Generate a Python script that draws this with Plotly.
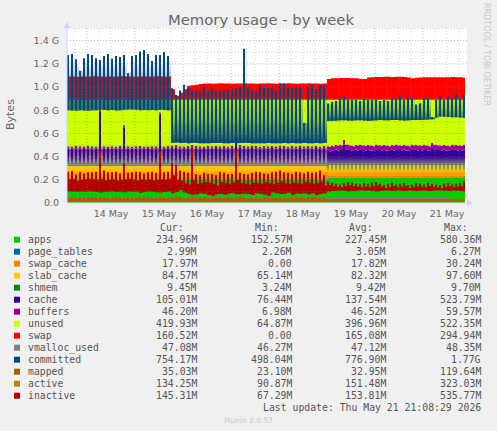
import pandas as pd
import plotly.graph_objects as go

# all values are in millions of bytes
# one row of "cycle" lists = one 2 hour comb tooth: first hour is the tall column, second the gap
hours = pd.date_range('2026-05-13 14:00', periods=200, freq='h')
coarse_hours = pd.date_range('2026-05-13 14:00', periods=17, freq='12h')

apps = [
    205, 205, 205, 205, 205, 205, 205, 205, 205, 205, 205, 205, 205, 205, 205, 205, 205, 205, 205, 205,
    205, 205, 205, 205, 205, 205, 205, 205, 205, 205, 205, 205, 205, 205, 205, 205, 205, 205, 205, 205,
    205, 205, 205, 205, 205, 205, 205, 205, 205, 205, 205, 205, 205, 205, 205, 205, 205, 205, 205, 205,
    205, 205, 205, 205, 205, 218, 218, 218, 218, 218, 218, 218, 218, 218, 218, 218, 218, 218, 218, 218,
    218, 218, 218, 218, 218, 218, 218, 218, 218, 218, 218, 218, 218, 218, 218, 218, 218, 218, 218, 218]
page_tables = [3, 3, 3, 3, 3, 3, 3, 3, 3, 3, 3, 3, 3, 3, 3, 3, 3]
swap_cache = [18, 18, 18, 18, 18, 18, 18, 18, 18, 18, 18, 18, 18, 18, 18, 18, 18]
shmem = [9, 9, 9, 9, 9, 9, 9, 9, 9, 9, 9, 9, 9, 9, 9, 9, 9]
slab_high = [
    95, 95, 95, 95, 95, 95, 95, 95, 95, 95, 95, 95, 95, 95, 95, 95, 95, 95, 95, 95,
    95, 95, 95, 95, 95, 95, 95, 95, 95, 95, 95, 95, 95, 95, 95, 95, 95, 95, 95, 95,
    95, 95, 95, 95, 95, 95, 95, 95, 95, 95, 95, 95, 95, 95, 95, 95, 95, 95, 95, 95,
    95, 95, 95, 95, 95, 50, 50, 50, 50, 50, 50, 50, 50, 50, 50, 50, 50, 50, 50, 50,
    50, 50, 50, 50, 50, 50, 50, 50, 50, 50, 50, 50, 50, 50, 50, 50, 50, 50, 50, 50]
slab_low = [
    95, 95, 95, 95, 95, 95, 95, 95, 95, 95, 95, 95, 95, 95, 95, 95, 95, 95, 95, 95,
    95, 95, 95, 95, 95, 95, 95, 95, 95, 95, 95, 95, 95, 95, 95, 95, 95, 95, 95, 95,
    95, 95, 95, 95, 95, 95, 95, 95, 95, 95, 95, 95, 95, 95, 95, 95, 95, 95, 95, 95,
    95, 95, 95, 95, 95, 90, 90, 90, 90, 90, 90, 90, 90, 90, 90, 90, 90, 90, 90, 90,
    90, 90, 90, 90, 90, 90, 90, 90, 90, 90, 90, 90, 90, 90, 90, 90, 90, 90, 90, 90]
cache_high = [
    140, 138, 142, 140, 136, 141, 139, 138, 460, 140, 136, 140, 138, 141, 320, 139, 137, 140, 142, 138,
    136, 140, 139, 430, 138, 141,
    145, 150, 140, 138, 142, 150, 141, 139, 136, 143, 140, 145, 139, 142, 138, 141, 205, 150, 143, 139,
    145, 141, 138, 142, 139, 144, 140, 146, 141, 138, 143, 140, 145, 139, 142, 140, 144, 138, 141,
    150, 155, 160, 165, 205, 165, 155, 160, 165, 158, 162, 155, 165, 158, 162, 155, 160, 165, 158, 162,
    155, 165, 160, 158, 165, 155, 180, 165, 158, 162, 155, 165, 160, 158, 162]
cache_low = [
    10, 10, 10, 10, 10, 10, 10, 10, 10, 10, 10, 10, 10, 10, 10, 10, 10, 10, 10, 10,
    10, 10, 10, 10, 10, 10, 10, 10, 10, 10, 10, 10, 10, 10, 10, 10, 10, 10, 10, 10,
    10, 10, 10, 10, 10, 10, 10, 10, 10, 10, 10, 10, 10, 10, 10, 10, 10, 10, 10, 10,
    10, 10, 10, 10, 10,
    105, 110, 115, 118, 125, 118, 110, 115, 118, 112, 115, 110, 118, 112, 115, 110, 115, 118, 112, 115,
    110, 118, 115, 112, 118, 110, 125, 118, 112, 115, 110, 118, 115, 112, 115]
buffers_high = [
    20, 20, 20, 20, 20, 20, 20, 20, 20, 20, 20, 20, 20, 20, 20, 20, 20, 20, 20, 20,
    20, 20, 20, 20, 20, 20, 20, 20, 20, 20, 20, 20, 20, 20, 20, 20, 20, 20, 20, 20,
    20, 20, 20, 20, 20, 20, 20, 20, 20, 20, 20, 20, 20, 20, 20, 20, 20, 20, 20, 20,
    20, 20, 20, 20, 20, 42, 42, 42, 42, 42, 42, 42, 42, 42, 42, 42, 42, 42, 42, 42,
    42, 42, 42, 42, 42, 42, 42, 42, 42, 42, 42, 42, 42, 42, 42, 42, 42, 42, 42, 42]
buffers_low = [
    5, 5, 5, 5, 5, 5, 5, 5, 5, 5, 5, 5, 5, 5, 5, 5, 5, 5, 5, 5,
    5, 5, 5, 5, 5, 5, 5, 5, 5, 5, 5, 5, 5, 5, 5, 5, 5, 5, 5, 5,
    5, 5, 5, 5, 5, 5, 5, 5, 5, 5, 5, 5, 5, 5, 5, 5, 5, 5, 5, 5,
    5, 5, 5, 5, 5, 42, 42, 42, 42, 42, 42, 42, 42, 42, 42, 42, 42, 42, 42, 42,
    42, 42, 42, 42, 42, 42, 42, 42, 42, 42, 42, 42, 42, 42, 42, 42, 42, 42, 42, 42]
unused_high = [
    400, 402, 398, 400, 404, 399, 401, 402, 80, 400, 404, 400, 402, 399, 220, 401, 403, 400, 398, 402,
    404, 400, 401, 110, 402, 399,
    395, 390, 400, 402, 398, 390, 399, 401, 404, 397, 400, 395, 401, 398, 402, 399, 335, 390, 397, 401,
    395, 399, 402, 398, 401, 396, 400, 394, 399, 402, 397, 400, 395, 401, 398, 400, 396, 402, 399,
    400, 395, 390, 385, 345, 385, 395, 390, 385, 392, 388, 395, 385, 392, 388, 395, 390, 385, 392, 388,
    395, 385, 390, 392, 385, 395, 370, 385, 392, 388, 395, 385, 390, 392, 388]
unused_low = [
    545, 545, 545, 545, 545, 545, 545, 545, 545, 545, 545, 545, 545, 545, 545, 545, 545, 545, 545, 545,
    545, 545, 545, 545, 545, 545, 545, 545, 545, 545, 545, 545, 545, 545, 545, 545, 545, 545, 545, 545,
    545, 545, 545, 545, 545, 545, 545, 545, 545, 545, 545, 545, 545, 545, 545, 545, 545, 545, 545, 545,
    545, 545, 545, 545, 545,
    405, 400, 395, 392, 385, 392, 400, 395, 392, 398, 395, 400, 392, 398, 395, 400, 395, 392, 398, 395,
    400, 392, 395, 398, 392, 400, 385, 392, 398, 395, 400, 392, 395, 398, 395]
swap = [
    200, 200, 198, 200, 200, 200, 202, 200, 200, 198, 200, 200, 200, 202, 200, 200, 198, 200, 200, 200,
    200, 200, 202, 200, 198, 200,
    90, 35, 60, 90, 120, 125, 130, 135, 140, 140, 138, 140, 142, 140, 140, 138, 140, 140, 142, 140,
    140, 138, 140, 140, 142, 140, 138, 140, 140, 142, 140, 138, 140, 140, 142, 140, 140, 138, 140,
    180, 185, 186, 188, 188, 187, 186, 185, 180, 178, 192, 195, 197, 197, 198, 198, 197, 198, 198, 197,
    192, 186, 190, 192, 193, 194, 194, 195, 195, 194, 195, 196, 194, 195, 190]
committed_high = [
    1276, 1284, 1239, 1141, 1247, 1284, 1276, 1247, 1233, 1267, 1284, 1244, 1267, 1259, 1276, 1118, 1267, 1276, 1305, 1319,
    1284, 1224, 1276, 1276, 1302, 1267,
    990, 930, 970, 1020, 990, 970, 975, 960, 1000, 970, 985, 960, 975, 970, 975, 980, 990, 1000, 1330, 1000,
    970, 960, 1010, 995, 995, 995, 965, 1030, 1030, 995, 995, 1000, 1000, 690, 1000, 1020, 980, 1020, 1010,
    855, 870, 880, 910, 920, 890, 888, 888, 880, 895, 890, 888, 895, 880, 888, 880, 900, 898, 930, 890,
    910, 910, 850, 860, 905, 900, 740, 890, 920, 890, 915, 905, 935, 900, 930]
committed_low = [
    800, 798, 795, 800, 797, 795, 800, 800, 803, 801, 800, 802, 798, 800, 803, 805, 805, 803, 800, 802,
    800, 802, 800, 803, 802, 800,
    520, 522, 518, 520, 515, 520, 518, 516, 515, 516, 518, 517, 518, 516, 515, 517, 515, 518, 520, 517,
    516, 516, 515, 516, 517, 515, 516, 516, 518, 516, 517, 515, 516, 518, 516, 515, 517, 516, 520,
    708, 710, 712, 714, 713, 712, 712, 713, 714, 712, 710, 712, 713, 715, 714, 713, 715, 716, 714, 712,
    714, 715, 716, 716, 718, 720, 722, 738, 745, 744, 742, 740, 740, 738, 735]
inactive_high = [
    270, 275, 245, 270, 255, 265, 265, 270, 445, 280, 265, 265, 270, 255, 340, 260, 265, 270, 270, 255,
    265, 270, 260, 440, 265, 270,
    340, 330, 280, 270, 260, 470, 250, 240, 260, 250, 250, 240, 270, 260, 250, 250, 460, 260, 250, 245,
    260, 270, 265, 255, 250, 265, 270, 280, 265, 260, 250, 270, 265, 255, 270, 260, 265, 280, 240,
    185, 175, 165, 160, 170, 180, 175, 165, 160, 170, 165, 175, 180, 165, 155, 165, 175, 160, 165, 170,
    155, 160, 170, 165, 160, 175, 165, 160, 155, 165, 170, 160, 165, 170, 190]
inactive_low = [
    205, 210, 190, 200, 205, 210, 205, 200, 210, 195, 200, 205, 195, 200, 205, 210, 200, 195, 205, 200,
    205, 195, 200, 205, 200, 210,
    240, 200, 190, 170, 160, 200, 165, 170, 180, 175, 165, 150, 180, 170, 165, 175, 200, 170, 165, 160,
    175, 170, 165, 180, 170, 165, 175, 185, 170, 165, 175, 170, 165, 180, 175, 165, 170, 185, 150,
    155, 145, 140, 135, 145, 150, 145, 140, 135, 140, 135, 145, 150, 140, 130, 135, 145, 135, 140, 145,
    130, 135, 140, 140, 135, 145, 140, 135, 130, 140, 145, 135, 140, 145, 150]
inactive_floor = [
    100, 98, 96, 100, 97, 100, 99, 95, 90, 98, 96, 100, 95, 97, 92, 100, 98, 96, 88, 95,
    100, 97, 92, 90, 95, 100,
    85, 95, 110, 90, 80, 72, 75, 85, 80, 70, 62, 75, 78, 72, 80, 85, 75, 78, 82, 78,
    70, 85, 80, 72, 62, 90, 85, 78, 80, 88, 72, 82, 78, 85, 75, 82, 70, 78, 85,
    100, 104, 106, 108, 105, 100, 103, 106, 108, 105, 107, 104, 100, 105, 108, 106, 103, 107, 105, 104,
    108, 106, 104, 105, 108, 103, 105, 107, 108, 105, 104, 107, 105, 103, 100]
mapped_high = [
    50, 55, 48, 52, 46, 50, 55, 48, 52, 50, 46, 52, 55, 50, 48, 52, 50, 46, 52, 55,
    50, 48, 52, 55, 50, 48,
    52, 58, 50, 46, 52, 55, 48, 50, 52, 46, 50, 55, 48, 52, 50, 46, 52, 55, 50, 48,
    52, 50, 46, 52, 55, 50, 48, 52, 50, 46, 52, 55, 50, 48, 52, 55, 50, 48, 46,
    34, 33, 33, 32, 33, 34, 33, 32, 33, 33, 34, 33, 32, 33, 33, 34, 33, 32, 33, 33,
    34, 33, 32, 33, 33, 34, 33, 32, 33, 33, 34, 33, 32, 33, 35]
mapped_low = [
    38, 40, 36, 38, 35, 40, 38, 36, 38, 40, 35, 38, 40, 36, 38, 35, 38, 40, 36, 38,
    40, 35, 38, 40, 36, 38,
    40, 42, 36, 35, 38, 40, 36, 38, 40, 35, 38, 40, 36, 38, 40, 35, 38, 40, 36, 38,
    40, 35, 38, 40, 36, 38, 40, 35, 38, 40, 36, 38, 40, 35, 38, 40, 36, 38, 35,
    31, 31, 30, 30, 31, 31, 30, 30, 31, 31, 30, 30, 31, 31, 30, 30, 31, 31, 30, 30,
    31, 31, 30, 30, 31, 31, 30, 30, 31, 31, 30, 30, 31, 31, 32]
vmalloc_used = [41, 41, 41, 41, 41, 41, 41, 41, 41, 41, 41, 41, 41, 41, 41, 41, 41]
active = [190, 185, 190, 188, 185, 160, 150, 165, 155, 160, 150, 155, 130, 135, 132, 130, 134]

# start/stop cycle, bottom and top of the haze, alpha stops
sections = [
    (0, 26, 800, 1250, [[0, 0.75], [0.22, 0.7], [0.23, 0.4], [0.64, 0.3], [1, 0]]),
    (26, 65, 520, 900, [[0, 1], [0.15, 0.75], [0.5, 0.35], [1, 0.1]]),
    (65, 100, 708, 900, [[0, 1], [0.25, 0.55], [0.6, 0.25], [1, 0.08]]),
]

y_ticks = [0, 200, 400, 600, 800, 1000, 1200, 1400]
y_tick_labels = ['0.0', '0.2 G', '0.4 G', '0.6 G', '0.8 G', '1.0 G', '1.2 G', '1.4 G']
x_ticks = ['2026-05-14 12:00', '2026-05-15 12:00', '2026-05-16 12:00', '2026-05-17 12:00',
           '2026-05-18 12:00', '2026-05-19 12:00', '2026-05-20 12:00', '2026-05-21 12:00']
x_tick_labels = ['14 May', '15 May', '16 May', '17 May', '18 May', '19 May', '20 May', '21 May']

legend_names = ['apps', 'page_tables', 'swap_cache', 'slab_cache', 'shmem', 'cache', 'buffers', 'unused',
                'swap', 'vmalloc_used', 'committed', 'mapped', 'active', 'inactive']
legend_colors = ['#00CC00', '#0066B3', '#FF8000', '#FFCC00', '#008F00', '#330099', '#990099', '#CCFF00',
                 '#FF0000', '#808080', '#00487D', '#B35A00', '#B38A00', '#B30000']
legend_cur = ['234.96M', '2.99M', '17.97M', '84.57M', '9.45M', '105.01M', '46.20M', '419.93M',
              '160.52M', '47.08M', '754.17M', '35.03M', '134.25M', '145.31M']
legend_min = ['152.57M', '2.26M', '0.00', '65.14M', '3.24M', '76.44M', '6.98M', '64.87M',
              '0.00', '46.27M', '498.04M', '23.10M', '90.87M', '67.29M']
legend_avg = ['227.45M', '3.05M', '17.82M', '82.32M', '9.42M', '137.54M', '46.52M', '396.96M',
              '165.08M', '47.12M', '776.90M', '32.95M', '151.48M', '153.81M']
legend_max = ['580.36M', '6.27M', '30.24M', '97.60M', '9.70M', '523.79M', '59.57M', '522.35M',
              '294.94M', '48.35M', '1.77G', '119.64M', '323.03M', '535.77M']

W, H = 497, 431
LEFT, RIGHT, TOP, BOTTOM = 67, 467, 28, 203
MONO = 'DejaVu Sans Mono'
SANS = 'DejaVu Sans'


def zigzag(high, low):
    return [v for pair in zip(high, low) for v in pair]


def px(x):
    return (x - LEFT) / (RIGHT - LEFT)


def py(y):
    return (BOTTOM - y) / (BOTTOM - TOP)


def stacked(x, y, color, gradient=None):
    style = dict(fillgradient=gradient) if gradient else dict(fillcolor=color)
    return go.Scatter(x=x, y=y, mode='lines', stackgroup='mem', stackgaps='interpolate',
                      line=dict(width=0, shape='hv', color=color),
                      showlegend=False, hoverinfo='skip', **style)


def floor_line(x, y):
    return go.Scatter(x=x, y=y, mode='lines', line=dict(width=0, shape='hv'), showlegend=False, hoverinfo='skip')


def band(x, y, color=None, gradient=None):
    style = dict(fillgradient=gradient) if gradient else dict(fillcolor=color)
    return go.Scatter(x=x, y=y, mode='lines', fill='tonexty', line=dict(width=0, shape='hv'),
                      showlegend=False, hoverinfo='skip', **style)


fig = go.Figure()

fig.add_trace(stacked(hours, zigzag(apps, apps), '#00CC00'))
fig.add_trace(stacked(coarse_hours, page_tables, '#0066B3'))
fig.add_trace(stacked(coarse_hours, swap_cache, '#FF8000'))
fig.add_trace(stacked(hours, zigzag(slab_high, slab_low), '#FFCC00',
                      dict(type='vertical', start=235, stop=295,
                           colorscale=[[0, '#FF8C00'], [1, '#FFCC00']])))
fig.add_trace(stacked(coarse_hours, shmem, '#008F00'))
fig.add_trace(stacked(hours, zigzag(cache_high, cache_low), '#330099',
                      dict(type='vertical', start=300, stop=400,
                           colorscale=[[0, '#A09870'], [0.5, '#6A5A90'], [1, '#330099']])))
fig.add_trace(stacked(hours, zigzag(buffers_high, buffers_low), '#990099'))
fig.add_trace(stacked(hours, zigzag(unused_high, unused_low), '#CCFF00',
                      dict(type='vertical', start=345, stop=500,
                           colorscale=[[0, '#AAA06E'], [0.35, '#8E7E90'], [0.7, '#86309A'],
                                       [0.85, '#A8C83C'], [1, '#CCFF00']])))
fig.add_trace(stacked(hours, zigzag(swap, swap), '#FF0000'))

# committed: a fading haze over the gaps, then the solid comb on top
low_y = zigzag(committed_low, committed_low)
env_y = zigzag(committed_high, committed_high)
for a, b, start, stop, alphas in sections:
    hx = hours[2 * a:2 * b + 1]
    fig.add_trace(floor_line(hx, low_y[2 * a:2 * b + 1]))
    fig.add_trace(band(hx, env_y[2 * a:2 * b + 1], gradient=dict(
        type='vertical', start=start, stop=stop,
        colorscale=[[pos, f'rgba(0,72,125,{alpha})'] for pos, alpha in alphas])))
fig.add_trace(floor_line(hours, low_y))
fig.add_trace(band(hours, zigzag(committed_high, committed_low), color='#00487D'))

fig.add_trace(go.Scatter(x=coarse_hours, y=vmalloc_used, mode='lines', line=dict(color='#808080', width=2),
                         showlegend=False, hoverinfo='skip'))
fig.add_trace(go.Scatter(x=coarse_hours, y=active, mode='lines', line=dict(color='#B38A00', width=1),
                         showlegend=False, hoverinfo='skip'))

fig.add_trace(floor_line(hours, zigzag(inactive_floor, inactive_floor)))
fig.add_trace(band(hours, zigzag(inactive_high, inactive_low), color='#B30000'))

fig.add_trace(floor_line([hours[0], hours[-1]], [12, 12]))
fig.add_trace(band(hours, zigzag(mapped_high, mapped_low), color='#B35A00'))

# rrdtool paints the grid over the data
shapes = []
for t in pd.date_range('2026-05-13 18:00', '2026-05-21 18:00', freq='6h'):
    major = t.hour == 0
    shapes.append(dict(type='line', xref='x', yref='paper', x0=t, x1=t, y0=0, y1=1,
                       line=dict(color='rgba(210,90,90,0.5)' if major else 'rgba(130,130,130,0.4)',
                                 width=1, dash='1px,2px')))
for v in range(100, 1501, 100):
    major = v % 200 == 0
    shapes.append(dict(type='line', xref='paper', yref='y', x0=0, x1=1, y0=v, y1=v,
                       line=dict(color='rgba(210,90,90,0.5)' if major else 'rgba(130,130,130,0.4)',
                                 width=1, dash='1px,2px')))

# axis lines and the little arrows
axis_color = '#CCD5FF'
shapes.append(dict(type='line', xref='paper', yref='paper', x0=0, x1=0, y0=0, y1=1, line=dict(color=axis_color, width=1)))
shapes.append(dict(type='line', xref='paper', yref='paper', x0=0, x1=1, y0=0, y1=0, line=dict(color='#DDDDDD', width=1)))
shapes.append(dict(type='path', xref='paper', yref='paper', fillcolor=axis_color, line=dict(width=0),
                   path=f'M {px(63.5)} {py(28)} L {px(70.5)} {py(28)} L {px(67)} {py(22)} Z'))
shapes.append(dict(type='path', xref='paper', yref='paper', fillcolor=axis_color, line=dict(width=0),
                   path=f'M {px(467)} {py(199.5)} L {px(467)} {py(206.5)} L {px(473)} {py(203)} Z'))

annotations = []


def text(x, y, s, size=9.8, color='#555555', font=MONO, anchor='left', angle=0):
    annotations.append(dict(xref='paper', yref='paper', x=px(x), y=py(y), text=s, showarrow=False,
                            xanchor=anchor, yanchor='middle', textangle=angle,
                            font=dict(family=font, size=size, color=color)))


text(261, 19, 'Memory usage - by week', size=14.8, color='#666666', font=SANS, anchor='center')
text(10, 115, 'Bytes', size=11, color='#666666', font=SANS, anchor='center', angle=-90)
text(487, 54, 'RRDTOOL / TOBI OETIKER', size=8, color='#C8C8C8', font=SANS, anchor='center', angle=90)

for right, head in zip([186, 281, 375, 470], ['Cur:', 'Min:', 'Avg:', 'Max:']):
    text(right, 227.7, head, anchor='right')

for i, name in enumerate(legend_names):
    row = 239.7 + 12 * i
    shapes.append(dict(type='rect', xref='paper', yref='paper', x0=px(14), x1=px(20), y0=py(row - 3), y1=py(row + 3),
                       fillcolor=legend_colors[i], line=dict(width=0)))
    text(26, row, name)
    text(199, row, legend_cur[i], anchor='right')
    text(294, row, legend_min[i], anchor='right')
    text(388, row, legend_avg[i], anchor='right')
    text(483, row, legend_max[i], anchor='right')

text(483, 407.7, 'Last update: Thu May 21 21:08:29 2026', anchor='right')
text(248, 420, 'Munin 2.0.57', size=7.5, color='#C8C8C8', font=SANS, anchor='center')

fig.update_layout(
    width=W, height=H,
    margin=dict(l=LEFT, r=W - RIGHT, t=TOP, b=H - BOTTOM, pad=0),
    paper_bgcolor='#F0F0F0', plot_bgcolor='#FFFFFF',
    shapes=shapes, annotations=annotations, showlegend=False,
    xaxis=dict(range=['2026-05-13 14:00', '2026-05-21 22:00'], showgrid=False, zeroline=False,
               tickmode='array', tickvals=x_ticks, ticktext=x_tick_labels, ticks='outside', ticklen=2,
               tickcolor='rgba(0,0,0,0)', tickfont=dict(family=SANS, size=9.5, color='#666666')),
    yaxis=dict(range=[0, 1508.6], showgrid=False, zeroline=False,
               tickmode='array', tickvals=y_ticks, ticktext=y_tick_labels, ticks='outside', ticklen=5,
               tickcolor='rgba(0,0,0,0)', tickfont=dict(family=SANS, size=9.5, color='#666666')),
)

fig.write_html("out.html", config={'displayModeBar': False}, post_script="document.body.style.margin='0';")
